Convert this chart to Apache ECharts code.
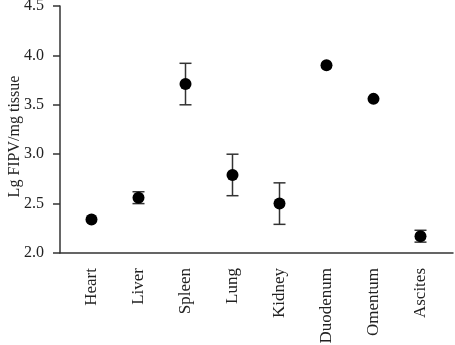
<!DOCTYPE html>
<html>
<head>
<meta charset="utf-8">
<script src="https://cdn.jsdelivr.net/npm/echarts@6/dist/echarts.min.js"></script>
<style>
  html, body { margin: 0; padding: 0; background: #fff; }
  #main { width: 455px; height: 345px; }
</style>
</head>
<body>
<div id="main"></div>
<script>
const categories = ["Heart", "Liver", "Spleen", "Lung", "Kidney", "Duodenum", "Omentum", "Ascites"];
const means = [2.34, 2.56, 3.71, 2.79, 2.50, 3.90, 3.56, 2.17];
const errors = [0, 0.06, 0.21, 0.21, 0.21, 0, 0, 0.06];
const yTicks = [2.0, 2.5, 3.0, 3.5, 4.0, 4.5];

const font = "'Liberation Serif', 'DejaVu Serif', serif";
const axisColor = "#333";

const chart = echarts.init(document.getElementById("main"));

const option = {
  animation: false,
  grid: [
    { left: 68, right: 11, top: 6, bottom: 92, outerBoundsMode: "none", containLabel: false },
    // wider grid only used to draw the x axis line across the full width
    { left: 60, right: 2, top: 6, bottom: 92, outerBoundsMode: "none", containLabel: false }
  ],
  xAxis: [
    {
      type: "category",
      gridIndex: 0,
      data: categories,
      boundaryGap: true,
      axisLine: { show: false },
      axisTick: { alignWithLabel: true, length: 7, lineStyle: { color: axisColor, width: 1.5 } },
      axisLabel: { rotate: 90, margin: 15, color: "#222", fontFamily: font, fontSize: 17 }
    },
    {
      type: "value",
      gridIndex: 1,
      min: 0,
      max: 1,
      axisLine: { show: true, lineStyle: { color: axisColor, width: 1.5 } },
      axisTick: { show: false },
      axisLabel: { show: false },
      splitLine: { show: false }
    }
  ],
  yAxis: [
    {
      type: "value",
      gridIndex: 0,
      min: yTicks[0],
      max: yTicks[yTicks.length - 1],
      interval: 0.5,
      offset: 8,
      name: "Lg FIPV/mg tissue",
      nameLocation: "middle",
      nameGap: 37,
      nameMoveOverlap: false,
      nameTextStyle: { color: "#222", fontFamily: font, fontSize: 16, padding: [0, 14, 0, 0] },
      axisLine: { show: true, lineStyle: { color: axisColor, width: 1.5 } },
      axisTick: { show: true, length: 7, lineStyle: { color: axisColor, width: 1.5 } },
      axisLabel: {
        margin: 16, color: "#222", fontFamily: font, fontSize: 16,
        formatter: v => v.toFixed(1)
      },
      splitLine: { show: false }
    },
    {
      type: "value",
      gridIndex: 1,
      show: false
    }
  ],
  series: [
    {
      type: "custom",
      xAxisIndex: 0,
      yAxisIndex: 0,
      data: categories.map((c, i) => [i, means[i] - errors[i], means[i] + errors[i]]),
      renderItem: (params, api) => {
        if (api.value(2) - api.value(1) < 1e-9) return null;
        const lo = api.coord([api.value(0), api.value(1)]);
        const hi = api.coord([api.value(0), api.value(2)]);
        const hw = 6;
        const style = { stroke: axisColor, lineWidth: 1.5 };
        return {
          type: "group",
          children: [
            { type: "line", shape: { x1: lo[0], y1: lo[1], x2: hi[0], y2: hi[1] }, style },
            { type: "line", shape: { x1: lo[0] - hw, y1: lo[1], x2: lo[0] + hw, y2: lo[1] }, style },
            { type: "line", shape: { x1: hi[0] - hw, y1: hi[1], x2: hi[0] + hw, y2: hi[1] }, style }
          ]
        };
      },
      z: 1
    },
    {
      type: "scatter",
      xAxisIndex: 0,
      yAxisIndex: 0,
      data: means,
      symbol: "circle",
      symbolSize: 12,
      itemStyle: { color: "#000", opacity: 1 },
      z: 2
    }
  ]
};

chart.setOption(option);
</script>
</body>
</html>
